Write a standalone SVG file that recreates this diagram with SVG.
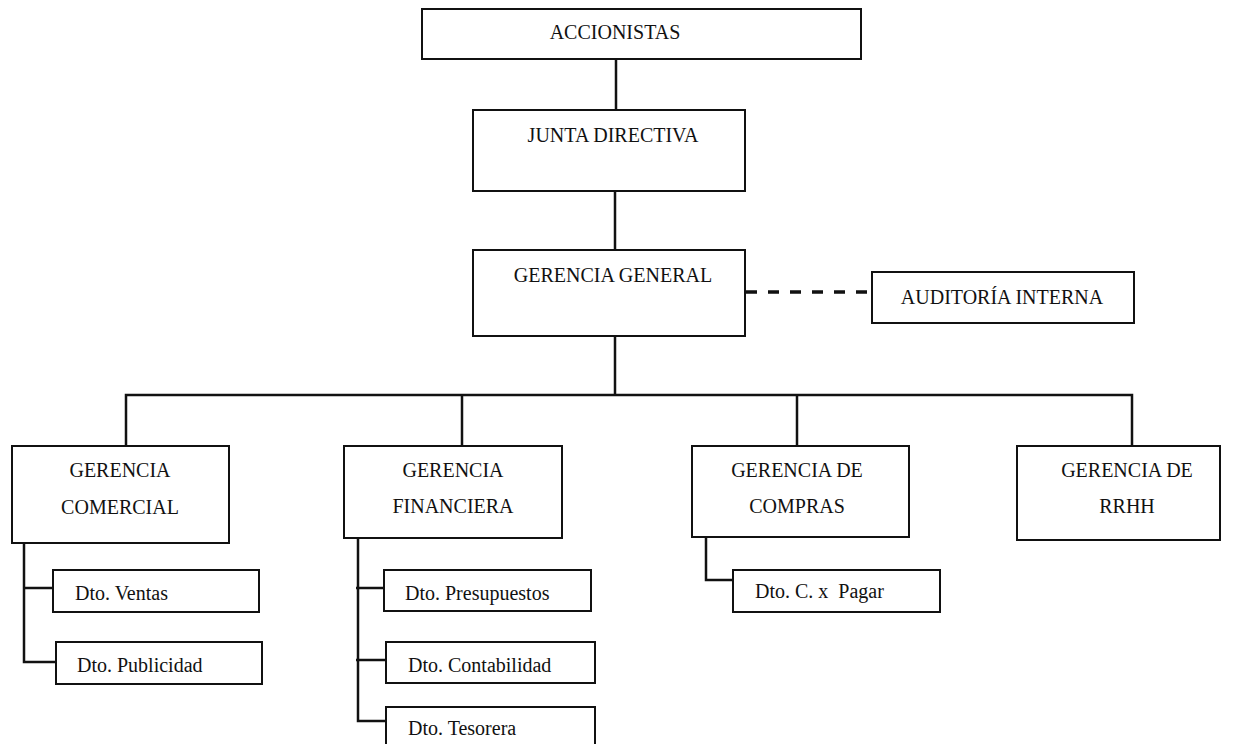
<svg xmlns="http://www.w3.org/2000/svg" width="1233" height="744" viewBox="0 0 1233 744">
<style>
.box{fill:#fff;stroke:#111;stroke-width:2}
.t{font-family:"Liberation Serif","Times New Roman",serif;font-size:20px;fill:#111;white-space:pre}
.m{text-anchor:middle}
.c{fill:none;stroke:#111;stroke-width:2.5}
.d{fill:none;stroke:#111;stroke-width:3.5;stroke-dasharray:11 11}
</style>
<rect width="1233" height="744" fill="#fff"/>
<g id="connectors">
<path class="c" d="M616 59V110M615 191V250M615 336V395M126 446V395H1132V446M462 395V446M797 395V446"/>
<path class="d" d="M746 292H872"/>
<path class="c" d="M24 543V662H56M24 588H53"/>
<path class="c" d="M358 538V721H386M356 588H384M356 660H386"/>
<path class="c" d="M706 537V580H733"/>
</g>
<g id="accionistas"><rect class="box" x="422" y="9" width="439" height="50"/><text class="t m" x="615" y="39">ACCIONISTAS</text></g>
<g id="junta"><rect class="box" x="473" y="110" width="272" height="81"/><text class="t m" x="613" y="142">JUNTA DIRECTIVA</text></g>
<g id="gerencia-general"><rect class="box" x="473" y="250" width="272" height="86"/><text class="t m" x="613" y="282">GERENCIA GENERAL</text></g>
<g id="auditoria"><rect class="box" x="872" y="272" width="262" height="51"/><text class="t m" x="1002" y="304">AUDITORÍA INTERNA</text></g>
<g id="g-comercial"><rect class="box" x="12" y="446" width="217" height="97"/><text class="t m" x="120" y="477">GERENCIA</text><text class="t m" x="120" y="514">COMERCIAL</text></g>
<g id="g-financiera"><rect class="box" x="344" y="446" width="218" height="92"/><text class="t m" x="453" y="477">GERENCIA</text><text class="t m" x="453" y="513">FINANCIERA</text></g>
<g id="g-compras"><rect class="box" x="692" y="446" width="217" height="91"/><text class="t m" x="797" y="477">GERENCIA DE</text><text class="t m" x="797" y="513">COMPRAS</text></g>
<g id="g-rrhh"><rect class="box" x="1017" y="446" width="203" height="94"/><text class="t m" x="1127" y="477">GERENCIA DE</text><text class="t m" x="1127" y="513">RRHH</text></g>
<g id="d-ventas"><rect class="box" x="53" y="570" width="206" height="42"/><text class="t" x="75" y="600">Dto. Ventas</text></g>
<g id="d-publicidad"><rect class="box" x="56" y="642" width="206" height="42"/><text class="t" x="77" y="672">Dto. Publicidad</text></g>
<g id="d-presupuestos"><rect class="box" x="384" y="570" width="207" height="41"/><text class="t" x="405" y="600">Dto. Presupuestos</text></g>
<g id="d-contabilidad"><rect class="box" x="386" y="642" width="209" height="41"/><text class="t" x="408" y="672">Dto. Contabilidad</text></g>
<g id="d-tesorera"><rect class="box" x="386" y="707" width="209" height="45"/><text class="t" x="408" y="735">Dto. Tesorera</text></g>
<g id="d-pagar"><rect class="box" x="733" y="570" width="207" height="42"/><text class="t" x="755" y="598">Dto. C. x  Pagar</text></g>
</svg>
